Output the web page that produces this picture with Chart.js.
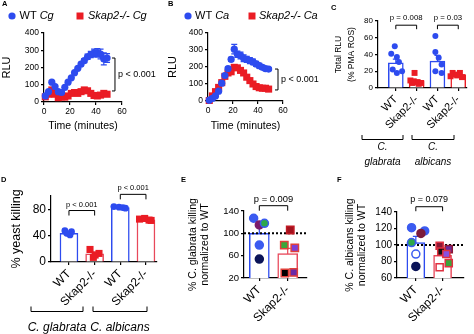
<!DOCTYPE html>
<html>
<head>
<meta charset="utf-8">
<script src="https://cdn.jsdelivr.net/npm/chart.js@4.4.0/dist/chart.umd.min.js"></script>
<style>
  html, body { margin: 0; padding: 0; background: #fff; }
  #wrap { position: relative; width: 474px; height: 334px; overflow: hidden; }
  #wrap canvas { position: absolute; left: 0; top: 0; }
</style>
</head>
<body>
<div id="wrap">
  <canvas id="cA" width="474" height="334"></canvas>
  <canvas id="cB" width="474" height="334"></canvas>
  <canvas id="cC" width="474" height="334"></canvas>
  <canvas id="cD" width="474" height="334"></canvas>
  <canvas id="cE" width="474" height="334"></canvas>
  <canvas id="cF" width="474" height="334"></canvas>
</div>
<script>
// ---- data ----
// A, B: ROS time course
const minutes = [1, 3.5, 6, 8.5, 11, 13.5, 16, 18.5, 21, 23.5, 26, 28.5, 31, 33.5, 36, 38.5, 41, 43.5, 46, 48.5];
const rluWtCg = [35, 60, 115, 90, 60, 55, 85, 115, 140, 170, 195, 220, 240, 262, 275, 285, 285, 278, 250, 255];
const semWtCg = [0, 0, 0, 0, 0, 0, 0, 0, 0, 0, 0, 10, 12, 15, 18, 22, 25, 28, 35, 25];
const rluKoCg = [30, 45, 70, 45, 25, 30, 28, 35, 50, 55, 50, 60, 70, 65, 50, 38, 35, 40, 50, 45];
const rluWtCa = [5, 15, 30, 58, 105, 150, 190, 245, 305, 275, 268, 252, 245, 238, 230, 218, 208, 198, 190, 188];
const semWtCa = [0, 0, 0, 0, 6, 8, 10, 12, 28, 18, 20, 20, 18, 18, 16, 15, 14, 12, 10, 8];
const rluKoCa = [3, 30, 55, 80, 108, 145, 165, 172, 198, 195, 180, 165, 140, 120, 100, 85, 78, 75, 75, 70];
const timeTicks = [0, 20, 40, 60];
const rluTicks = [0, 100, 200, 300, 400];

// C: total RLU (% PMA ROS)
const groupLabels = ['WT', 'Skap2-/-', 'WT', 'Skap2-/-'];
const totalMean = [30, 8, 32, 16];
const totalSem = [4.5, 1.5, 7, 1.2];
const totalWtCg = [50, 41, 37, 31, 22, 18, 20];
const totalKoCg = [18, 9, 8, 7, 6, 6, 5];
const totalWtCa = [62, 43, 36, 28, 20, 18];
const totalKoCa = [18, 18, 16, 15, 14, 13];

// D: % yeast killing
const killMean = [43.5, 12.5, 82.5, 64];
const killSem = [1.5, 2.5, 0.7, 1];
const killWtCg = [47.5, 46, 41, 43.5];
const killKoCg = [19, 10.5, 13, 7];
const killWtCa = [84, 83, 82.5, 81.5];
const killKoCa = [65, 66, 63.5, 63];

// E, F: killing normalized to WT
const pairLabels = ['WT', 'Skap2-/-'];
const normCgMean = [100, 63.6];
const normCgSem = [12, 9.5];
const normCgWt = [127, 115, 118, 79, 54];
const normCgKo = [106, 79, 74, 29, 30];
const normCaMean = [103, 87.5];
const normCaSem = [7.5, 4];
const normCaWt = [121, 117, 114, 103, 89, 74];
const normCaKo = [99, 95, 92, 89, 78, 73];

// horizontal spread of the dots around their bar (in category units)
const jitWtCgC = [-0.05, -0.22, 0.05, 0.15, -0.15, 0.05, 0.3];
const jitKoCgC = [-0.1, -0.3, -0.14, 0.05, 0.22, -0.2, 0.1];
const jitWtCaC = [-0.1, -0.1, 0.06, 0.2, -0.1, 0.2];
const jitKoCaC = [-0.27, 0.08, -0.13, -0.05, -0.37, 0.18];
const jitWtCgD = [-0.16, 0.1, 0.04, -0.09];
const jitKoCgD = [-0.18, 0.02, 0.17, -0.05];
const jitWtCaD = [-0.25, -0.05, 0.1, 0.2];
const jitKoCaD = [-0.25, -0.05, 0.12, 0.2];
const jitWtE = [-0.2, 0, 0.18, 0, 0];
const jitKoE = [0.09, -0.12, 0.25, -0.1, 0.21];
const jitWtF = [-0.16, 0.33, 0.19, -0.16, 0, 0];
const jitKoF = [-0.11, 0.23, -0.05, 0.14, 0.23, -0.11];

// donor colours in E and F
const fillWtE = ['#3b5bf0', '#7b1b6b', '#2ea84a', '#3b5bf0', '#0b1458'];
const edgeWtE = ['#3b5bf0', '#7b1b6b', '#3b5bf0', '#3b5bf0', '#0b1458'];
const fillKoE = ['#a3121e', '#3aa63a', '#7e3fd6', '#000000', '#6a2aa8'];
const edgeKoE = ['#c01a24', '#e0403a', '#e0403a', '#e0403a', '#e0403a'];
const fillWtF = ['#3b5bf0', '#3b5bf0', '#7b1b3b', '#2ea84a', '#ffffff', '#0b1458'];
const edgeWtF = ['#3b5bf0', '#3b5bf0', '#7b1b3b', '#3b5bf0', '#3b5bf0', '#0b1458'];
const fillKoF = ['#8c1836', '#6b2a9e', '#111111', '#8a50e0', '#3aa63a', '#ffffff'];
const edgeKoF = ['#e03040', '#8c1836', '#e03040', '#e03040', '#e03040', '#e03040'];

// ---- styling ----
const FAMILY = "'Liberation Sans', Arial, Helvetica, sans-serif";
const BLUE = '#2d4bef';
const RED = '#ea1c24';
const PINK = '#e8485a';
const PAGE_W = 474, PAGE_H = 334;

Chart.defaults.font.family = FAMILY;
Chart.defaults.color = '#000';
Chart.defaults.animation = false;
Chart.defaults.responsive = false;
Chart.defaults.events = [];
Chart.defaults.plugins.legend.display = false;
Chart.defaults.plugins.tooltip.enabled = false;

const fnt = p => (p.i ? 'italic ' : '') + (p.b ? 'bold ' : '') + p.s + 'px ' + FAMILY;

// error bars, dotted reference line, brackets and free text
const extras = {
  id: 'extras',
  beforeDatasetDraw(chart, args) {
    const ds = chart.data.datasets[args.index];
    if (!ds.errors) return;
    const ctx = chart.ctx, ys = chart.scales.y;
    ctx.save();
    ctx.lineWidth = 1.2;
    args.meta.data.forEach((el, i) => {
      const e = ds.errors[i];
      if (!e) return;
      const v = ds.data[i].y;
      const top = ys.getPixelForValue(v + e), bot = ys.getPixelForValue(v - e);
      const cap = ds.capWidth || 3;
      ctx.strokeStyle = Array.isArray(ds.borderColor) ? ds.borderColor[i] : ds.borderColor;
      ctx.beginPath();
      ctx.moveTo(el.x, top); ctx.lineTo(el.x, bot);
      ctx.moveTo(el.x - cap, top); ctx.lineTo(el.x + cap, top);
      ctx.moveTo(el.x - cap, bot); ctx.lineTo(el.x + cap, bot);
      ctx.stroke();
    });
    ctx.restore();
  },
  afterDatasetDraw(chart, args, opts) {
    const ds = chart.data.datasets[args.index];
    if (ds.type !== 'bar' || opts.refLine == null) return;
    const ctx = chart.ctx, a = chart.chartArea;
    const y = chart.scales.y.getPixelForValue(opts.refLine);
    ctx.save();
    ctx.strokeStyle = '#000';
    ctx.lineWidth = 2;
    ctx.setLineDash([2, 2]);
    ctx.beginPath();
    ctx.moveTo(a.left, y); ctx.lineTo(a.right, y);
    ctx.stroke();
    ctx.restore();
  },
  afterDraw(chart, args, opts) {
    const ctx = chart.ctx, xs = chart.scales.x, ys = chart.scales.y;
    ctx.save();
    ctx.strokeStyle = '#000';
    ctx.fillStyle = '#000';
    ctx.lineWidth = 1;
    ctx.textBaseline = 'middle';
    (opts.pBars || []).forEach(b => {
      const x1 = xs.getPixelForValue(b.x1), x2 = xs.getPixelForValue(b.x2);
      const y = ys.getPixelForValue(b.y);
      ctx.beginPath();
      ctx.moveTo(x1, y + b.tick); ctx.lineTo(x1, y); ctx.lineTo(x2, y); ctx.lineTo(x2, y + b.tick);
      ctx.stroke();
      ctx.font = fnt({ s: b.size });
      ctx.textAlign = 'center';
      ctx.fillText(b.text, (x1 + x2) / 2, y - b.dy);
    });
    (opts.vBars || []).forEach(b => {
      const x = xs.getPixelForValue(b.x);
      const y1 = ys.getPixelForValue(b.y1), y2 = ys.getPixelForValue(b.y2);
      ctx.beginPath();
      ctx.moveTo(x - b.tick, y1); ctx.lineTo(x, y1); ctx.lineTo(x, y2); ctx.lineTo(x - b.tick, y2);
      ctx.stroke();
      ctx.font = fnt({ s: b.size });
      ctx.textAlign = 'left';
      ctx.fillText(b.text, x + b.dx, (y1 + y2) / 2);
    });
    (opts.groups || []).forEach(g => {
      ctx.beginPath();
      ctx.moveTo(g.x1, g.y - g.up); ctx.lineTo(g.x1, g.y); ctx.lineTo(g.x2, g.y); ctx.lineTo(g.x2, g.y - g.up);
      ctx.stroke();
    });
    (opts.notes || []).forEach(n => {
      if (n.marker) {
        ctx.fillStyle = n.color;
        ctx.beginPath();
        if (n.marker === 'circle') ctx.arc(n.x, n.y, n.r, 0, Math.PI * 2);
        else ctx.rect(n.x - n.r, n.y - n.r, 2 * n.r, 2 * n.r);
        ctx.fill();
        return;
      }
      ctx.fillStyle = '#000';
      ctx.textAlign = 'left';
      let w = 0;
      n.parts.forEach(p => { ctx.font = fnt(p); w += ctx.measureText(p.t).width; });
      let x = n.align === 'center' ? n.x - w / 2 : n.x;
      n.parts.forEach(p => {
        ctx.font = fnt(p);
        ctx.fillText(p.t, x, n.y);
        x += ctx.measureText(p.t).width;
      });
    });
    ctx.restore();
  }
};

// ---- axis helpers ----
// l,t,r,b: plot area in page pixels; yw / xh: fixed axis box sizes
function pad(l, t, r, b, yw, xh) {
  return { left: l - yw, top: t, right: PAGE_W - r, bottom: PAGE_H - b - xh };
}
function axisBase(size) {
  return {
    offset: false,
    grid: { display: true, drawOnChartArea: false, drawTicks: true, offset: false, tickLength: 3, color: '#000', lineWidth: 1.2 },
    border: { display: true, color: '#000', width: 1.2 },
    ticks: { font: { size: size }, color: '#000', padding: 2 }
  };
}
function yAxis(o) {
  const a = axisBase(o.size);
  a.type = 'linear';
  a.min = o.min; a.max = o.max;
  a.ticks.stepSize = o.step;
  a.afterFit = s => { s.width = o.w; };
  a.title = {
    display: true, text: o.title, color: '#000',
    font: { size: o.tsize, lineHeight: o.lh },
    padding: { top: o.titleX - (o.left - o.w) - o.tsize * o.lh / 2, bottom: 0 }
  };
  return a;
}
function timeAxis(h) {
  const a = axisBase(8.5);
  a.type = 'linear';
  a.min = timeTicks[0]; a.max = timeTicks[timeTicks.length - 1];
  a.ticks.stepSize = timeTicks[1] - timeTicks[0];
  a.afterFit = s => { s.height = h; };
  a.title = { display: true, text: 'Time (minutes)', color: '#000', font: { size: 10.5, lineHeight: 1.2 }, padding: { top: 0, bottom: 0 } };
  return a;
}
function groupAxis(o) {
  const a = axisBase(o.size);
  a.type = 'linear';
  a.min = o.min; a.max = o.max;
  a.afterBuildTicks = s => { s.ticks = o.labels.map((_, i) => ({ value: i + 1 })); };
  Object.assign(a.ticks, { autoSkip: false, minRotation: 45, maxRotation: 45, callback: v => o.labels[v - 1] });
  a.afterFit = s => { s.height = o.h; };
  return a;
}
const pts = (vals, base, jit) => vals.map((v, i) => ({ x: base + jit[i], y: v }));
const letter = (t, x, y) => ({ x: x, y: y, parts: [{ t: t, s: 7.5, b: true }] });

// ---- A ----
new Chart(document.getElementById('cA'), {
  type: 'scatter',
  data: { datasets: [
    { data: minutes.map((t, i) => ({ x: t, y: rluWtCg[i] })), errors: semWtCg, capWidth: 3,
      pointStyle: 'circle', pointRadius: 3.6, backgroundColor: BLUE, borderColor: BLUE, borderWidth: 0, clip: false },
    { data: minutes.map((t, i) => ({ x: t, y: rluKoCg[i] })),
      pointStyle: 'rect', pointRadius: 5, backgroundColor: RED, borderColor: RED, borderWidth: 0, clip: false }
  ] },
  options: {
    layout: { padding: pad(44, 33, 122, 102, 44, 30) },
    scales: {
      x: timeAxis(30),
      y: yAxis({ min: 0, max: 400, step: 100, size: 8.5, w: 44, left: 44, title: 'RLU', tsize: 11, lh: 1.2, titleX: 7 })
    },
    plugins: { extras: {
      vBars: [{ x: 54.6, y1: 64, y2: 255, tick: 3, text: 'p < 0.001', size: 9, dx: 3 }],
      notes: [
        letter('A', 2, 4),
        { marker: 'circle', x: 12, y: 16, r: 3.6, color: BLUE },
        { x: 19.5, y: 16, parts: [{ t: 'WT ', s: 11 }, { t: 'Cg', s: 11, i: true }] },
        { marker: 'rect', x: 80, y: 16, r: 3.5, color: RED },
        { x: 88, y: 16, parts: [{ t: 'Skap2-/- Cg', s: 11, i: true }] }
      ]
    } }
  },
  plugins: [extras]
});

// ---- B ----
new Chart(document.getElementById('cB'), {
  type: 'scatter',
  data: { datasets: [
    { data: minutes.map((t, i) => ({ x: t, y: rluWtCa[i] })), errors: semWtCa, capWidth: 3,
      pointStyle: 'circle', pointRadius: 3.6, backgroundColor: BLUE, borderColor: BLUE, borderWidth: 0, clip: false },
    { data: minutes.map((t, i) => ({ x: t, y: rluKoCa[i] })),
      pointStyle: 'rect', pointRadius: 5, backgroundColor: RED, borderColor: RED, borderWidth: 0, clip: false }
  ] },
  options: {
    layout: { padding: pad(208, 33, 283, 101, 41.5, 31) },
    scales: {
      x: timeAxis(31),
      y: yAxis({ min: 0, max: 400, step: 100, size: 8.5, w: 41.5, left: 208, title: 'RLU', tsize: 11, lh: 1.2, titleX: 173 })
    },
    plugins: { extras: {
      vBars: [{ x: 56, y1: 65, y2: 188, tick: 3, text: 'p < 0.001', size: 9, dx: 3 }],
      notes: [
        letter('B', 168, 4),
        { marker: 'circle', x: 188, y: 16, r: 3.6, color: BLUE },
        { x: 195, y: 16, parts: [{ t: 'WT ', s: 11 }, { t: 'Ca', s: 11, i: true }] },
        { marker: 'rect', x: 252, y: 16, r: 3.5, color: RED },
        { x: 259, y: 16, parts: [{ t: 'Skap2-/- Ca', s: 11, i: true }] }
      ]
    } }
  },
  plugins: [extras]
});

// ---- C ----
new Chart(document.getElementById('cC'), {
  type: 'bar',
  data: { datasets: [
    { type: 'bar', order: 10, data: totalMean.map((v, i) => ({ x: i + 1, y: v })), errors: totalSem, capWidth: 3,
      backgroundColor: '#fff', borderColor: [BLUE, RED, BLUE, RED], borderWidth: 1.5, barThickness: 15 },
    { type: 'scatter', data: pts(totalWtCg, 1, jitWtCgC), pointStyle: 'circle', pointRadius: 3, backgroundColor: BLUE, borderWidth: 0, clip: false },
    { type: 'scatter', data: pts(totalKoCg, 2, jitKoCgC), pointStyle: 'rect', pointRadius: 4.2, backgroundColor: RED, borderWidth: 0, clip: false },
    { type: 'scatter', data: pts(totalWtCa, 3, jitWtCaC), pointStyle: 'circle', pointRadius: 3, backgroundColor: BLUE, borderWidth: 0, clip: false },
    { type: 'scatter', data: pts(totalKoCa, 4, jitKoCaC), pointStyle: 'rect', pointRadius: 4.2, backgroundColor: RED, borderWidth: 0, clip: false }
  ] },
  options: {
    layout: { padding: pad(378, 21, 467, 88, 45.5, 50) },
    scales: {
      x: groupAxis({ min: 0.144, max: 4.42, labels: groupLabels, size: 11, h: 50 }),
      y: yAxis({ min: 0, max: 80, step: 20, size: 8, w: 45.5, left: 378, title: ['Total RLU', '(% PMA ROS)'], tsize: 8.5, lh: 1.47, titleX: 339 })
    },
    plugins: { extras: {
      pBars: [
        { x1: 1, x2: 2, y: 75, tick: 4, text: 'p = 0.008', size: 7.8, dy: 7 },
        { x1: 3, x2: 4, y: 75, tick: 4, text: 'p = 0.03', size: 7.8, dy: 7 }
      ],
      groups: [{ x1: 362, x2: 403, y: 139.5, up: 4.5 }, { x1: 412, x2: 454, y: 139.5, up: 4.5 }],
      notes: [
        letter('C', 331, 8),
        { x: 382.5, y: 147, align: 'center', parts: [{ t: 'C.', s: 10, i: true }] },
        { x: 382.5, y: 162, align: 'center', parts: [{ t: 'glabrata', s: 10, i: true }] },
        { x: 433, y: 147, align: 'center', parts: [{ t: 'C.', s: 10, i: true }] },
        { x: 433, y: 162, align: 'center', parts: [{ t: 'albicans', s: 10, i: true }] }
      ]
    } }
  },
  plugins: [extras]
});

// ---- D ----
new Chart(document.getElementById('cD'), {
  type: 'bar',
  data: { datasets: [
    { type: 'bar', order: 10, data: killMean.map((v, i) => ({ x: i + 1, y: v })), errors: killSem, capWidth: 3,
      backgroundColor: '#fff', borderColor: [BLUE, PINK, BLUE, PINK], borderWidth: 1.5, barThickness: 18 },
    { type: 'scatter', data: pts(killWtCg, 1, jitWtCgD), pointStyle: 'circle', pointRadius: 3.4, backgroundColor: BLUE, borderWidth: 0, clip: false },
    { type: 'scatter', data: pts(killKoCg, 2, jitKoCgD), pointStyle: 'rect', pointRadius: 5, backgroundColor: RED, borderWidth: 0, clip: false },
    { type: 'scatter', data: pts(killWtCa, 3, jitWtCaD), pointStyle: 'circle', pointRadius: 3.4, backgroundColor: BLUE, borderWidth: 0, clip: false },
    { type: 'scatter', data: pts(killKoCa, 4, jitKoCaD), pointStyle: 'rect', pointRadius: 5, backgroundColor: RED, borderWidth: 0, clip: false }
  ] },
  options: {
    layout: { padding: pad(51, 196, 157, 262, 41.5, 50) },
    scales: {
      x: groupAxis({ min: 0.30, max: 4.43, labels: groupLabels, size: 12, h: 50 }),
      y: yAxis({ min: 0, max: 100, step: 20, size: 12, w: 41.5, left: 51, title: '% yeast killing', tsize: 12.5, lh: 1.2, titleX: 17 })
    },
    plugins: { extras: {
      pBars: [
        { x1: 1, x2: 2, y: 78, tick: 5, text: 'p < 0.001', size: 7.5, dy: 6 },
        { x1: 3, x2: 4, y: 102.5, tick: 5, text: 'p < 0.001', size: 7.5, dy: 6 }
      ],
      groups: [{ x1: 31, x2: 83, y: 311.5, up: 5 }, { x1: 93, x2: 147, y: 311.5, up: 5 }],
      notes: [
        letter('D', 1, 180),
        { x: 57, y: 328, align: 'center', parts: [{ t: 'C. glabrata', s: 12, i: true }] },
        { x: 120, y: 328, align: 'center', parts: [{ t: 'C. albicans', s: 12, i: true }] }
      ]
    } }
  },
  plugins: [extras]
});

// ---- E ----
new Chart(document.getElementById('cE'), {
  type: 'bar',
  data: { datasets: [
    { type: 'bar', order: 10, data: normCgMean.map((v, i) => ({ x: i + 1, y: v })), errors: normCgSem, capWidth: 3,
      backgroundColor: '#fff', borderColor: [BLUE, PINK], borderWidth: 1.5, barThickness: 20 },
    { type: 'scatter', data: pts(normCgWt, 1, jitWtE), pointStyle: 'circle', pointRadius: 4,
      backgroundColor: fillWtE, borderColor: edgeWtE, borderWidth: 1.5, clip: false },
    { type: 'scatter', data: pts(normCgKo, 2, jitKoE), pointStyle: 'rect', pointRadius: 5.2,
      backgroundColor: fillKoE, borderColor: edgeKoE, borderWidth: 1.5, clip: false }
  ] },
  options: {
    layout: { padding: pad(244, 211, 307, 278, 57, 45) },
    scales: {
      x: groupAxis({ min: 0.46, max: 2.68, labels: pairLabels, size: 12, h: 45 }),
      y: yAxis({ min: 20, max: 140, step: 20, size: 9.5, w: 57, left: 244, title: ['% C. glabrata killing', 'normalized to WT'], tsize: 10.5, lh: 1.15, titleX: 193 })
    },
    plugins: { extras: {
      refLine: 100,
      pBars: [{ x1: 1, x2: 2, y: 149.5, tick: 5, text: 'p = 0.009', size: 9.4, dy: 6.5 }],
      notes: [letter('E', 181, 180)]
    } }
  },
  plugins: [extras]
});

// ---- F ----
new Chart(document.getElementById('cF'), {
  type: 'bar',
  data: { datasets: [
    { type: 'bar', order: 10, data: normCaMean.map((v, i) => ({ x: i + 1, y: v })), errors: normCaSem, capWidth: 3,
      backgroundColor: '#fff', borderColor: [BLUE, PINK], borderWidth: 1.5, barThickness: 18 },
    { type: 'scatter', data: pts(normCaWt, 1, jitWtF), pointStyle: 'circle', pointRadius: 4,
      backgroundColor: fillWtF, borderColor: edgeWtF, borderWidth: 1.5, clip: false },
    { type: 'scatter', data: pts(normCaKo, 2, jitKoF), pointStyle: 'rect', pointRadius: 5,
      backgroundColor: fillKoF, borderColor: edgeKoF, borderWidth: 1.5, clip: false }
  ] },
  options: {
    layout: { padding: pad(397, 212, 464, 278, 53, 45) },
    scales: {
      x: groupAxis({ min: 0.296, max: 2.8, labels: pairLabels, size: 12, h: 45 }),
      y: yAxis({ min: 60, max: 140, step: 20, size: 10, w: 53, left: 397, title: ['% C. albicans killing', 'normalized to WT'], tsize: 10.5, lh: 1.15, titleX: 350 })
    },
    plugins: { extras: {
      refLine: 100,
      pBars: [{ x1: 1, x2: 2, y: 146.4, tick: 4.5, text: 'p = 0.079', size: 9, dy: 7.4 }],
      notes: [letter('F', 337, 180)]
    } }
  },
  plugins: [extras]
});
</script>
</body>
</html>
